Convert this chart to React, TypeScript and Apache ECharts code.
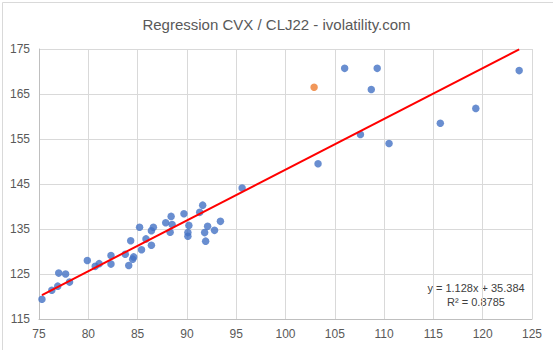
import React, { useEffect, useRef } from "react";
import * as echarts from "echarts";

const titleText = "Regression CVX / CLJ22 - ivolatility.com";

const xValues = [
  75.3, 76.3, 76.9, 77.0, 77.7, 78.1, 79.9, 80.7, 81.1, 82.3, 82.3, 83.75,
  84.1, 84.6, 84.5, 84.3, 85.2, 85.4, 85.85, 86.4, 86.4, 86.6, 87.85, 88.3,
  88.5, 88.4, 89.7, 90.1, 90.1, 90.2, 91.3, 91.6, 91.8, 91.9, 92.1, 92.8,
  93.4, 95.6, 103.3, 106.0, 107.6, 108.7, 109.3, 110.5, 115.7, 119.3, 123.7,
];
const yValues = [
  119.4, 121.4, 122.3, 125.2, 125.0, 123.2, 128.0, 126.7, 127.3, 129.1, 127.2,
  129.4, 126.9, 128.8, 128.3, 132.4, 135.4, 130.4, 132.8, 131.4, 134.6, 135.4,
  136.4, 134.3, 136.0, 137.8, 138.4, 134.2, 133.4, 135.8, 138.7, 140.3, 134.2,
  132.3, 135.6, 134.7, 136.7, 144.1, 149.5, 170.7, 156.0, 166.0, 170.7, 154.0,
  158.5, 161.8, 170.2,
];
const highlightX = [102.9];
const highlightY = [166.5];

const slope = 1.128;
const intercept = 35.384;
const rSquared = 0.8785;

const xTicks = [75, 125, 5];
const yTicks = [115, 175, 10];

export default function App() {
  const ref = useRef<HTMLDivElement>(null);
  useEffect(() => {
    if (!ref.current) return;
    const chart = echarts.init(ref.current, undefined, { renderer: "svg" });
    const points = xValues.map((x, i) => [x, yValues[i]]);
    const hi = highlightX.map((x, i) => [x, highlightY[i]]);
    const xMin = Math.min(...xValues);
    const xMax = Math.max(...xValues);
    const trend = [
      [xMin, slope * xMin + intercept],
      [xMax, slope * xMax + intercept],
    ];
    const labelStyle = {
      color: "#595959",
      fontSize: 12,
      fontFamily: "Liberation Sans, Arial, sans-serif",
    };
    chart.setOption({
      animation: false,
      backgroundColor: "#ffffff",
      title: {
        text: titleText,
        left: "center",
        top: 12,
        textStyle: {
          color: "#595959",
          fontSize: 15,
          fontWeight: "normal",
          fontFamily: "Liberation Sans, Arial, sans-serif",
        },
      },
      grid: { left: 39, right: 21, top: 49, bottom: 31, containLabel: false },
      xAxis: {
        type: "value",
        min: xTicks[0],
        max: xTicks[1],
        interval: xTicks[2],
        axisLine: { show: true, lineStyle: { color: "#BFBFBF", width: 1 } },
        axisTick: { show: false },
        axisLabel: { ...labelStyle, margin: 9 },
        splitLine: { show: true, lineStyle: { color: "#D9D9D9", width: 1 } },
      },
      yAxis: {
        type: "value",
        min: yTicks[0],
        max: yTicks[1],
        interval: yTicks[2],
        axisLine: { show: true, lineStyle: { color: "#BFBFBF", width: 1 } },
        axisTick: { show: false },
        axisLabel: { ...labelStyle, margin: 9 },
        splitLine: { show: true, lineStyle: { color: "#D9D9D9", width: 1 } },
      },
      series: [
        {
          type: "scatter",
          data: points,
          symbolSize: 7.5,
          itemStyle: { color: "#4472C4" },
          z: 3,
        },
        {
          type: "scatter",
          data: hi,
          symbolSize: 7.5,
          itemStyle: { color: "#ED7D31" },
          z: 3,
        },
        {
          type: "line",
          data: trend,
          symbol: "none",
          lineStyle: { color: "#FF0000", width: 2 },
          z: 4,
        },
      ],
      graphic: [
        {
          type: "rect",
          left: 0,
          top: 0,
          shape: { x: 0.5, y: 0.5, width: 552, height: 349 },
          style: { fill: "none", stroke: "#D9D9D9", lineWidth: 1 },
          silent: true,
        },
        {
          type: "text",
          x: 476,
          y: 288,
          style: {
            text: `y = ${slope}x + ${intercept}`,
            fill: "#404040",
            fontSize: 11,
            fontFamily: "Liberation Sans, Arial, sans-serif",
            textAlign: "center",
            textVerticalAlign: "middle",
          },
        },
        {
          type: "text",
          x: 476,
          y: 302,
          style: {
            text: `R² = ${rSquared}`,
            fill: "#404040",
            fontSize: 11,
            fontFamily: "Liberation Sans, Arial, sans-serif",
            textAlign: "center",
            textVerticalAlign: "middle",
          },
        },
      ],
    });
    return () => chart.dispose();
  }, []);
  return (
    <div
      ref={ref}
      style={{ position: "fixed", left: 0, top: 0, width: 553, height: 350 }}
    />
  );
}
